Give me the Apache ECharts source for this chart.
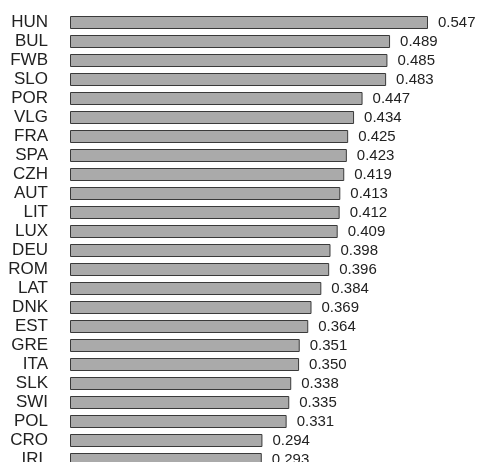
<!DOCTYPE html>
<html>
<head>
<meta charset="utf-8">
<script src="https://cdn.jsdelivr.net/npm/echarts@6/dist/echarts.min.js"></script>
<style>
html,body{margin:0;padding:0;background:#fff;}
#chart{width:493px;height:462px;}
</style>
</head>
<body>
<div id="chart"></div>
<script>
const categories = ["HUN","BUL","FWB","SLO","POR","VLG","FRA","SPA","CZH","AUT","LIT","LUX","DEU","ROM","LAT","DNK","EST","GRE","ITA","SLK","SWI","POL","CRO","IRL"];
const values = [0.547,0.489,0.485,0.483,0.447,0.434,0.425,0.423,0.419,0.413,0.412,0.409,0.398,0.396,0.384,0.369,0.364,0.351,0.350,0.338,0.335,0.331,0.294,0.293];

const chart = echarts.init(document.getElementById('chart'), null, {renderer:'canvas'});
const xMax = 0.6;
const pxPerUnit = 654.5;
chart.setOption({
  animation:false,
  backgroundColor:'#ffffff',
  grid:{left:70, top:13, width:xMax*pxPerUnit, height:categories.length*19, containLabel:false, outerBoundsMode:'none'},
  xAxis:{type:'value', min:0, max:xMax, show:false},
  yAxis:{type:'category', data:categories, inverse:true,
    axisLine:{show:false}, axisTick:{show:false}, splitLine:{show:false},
    axisLabel:{interval:0, margin:22, color:'#222', fontFamily:'Liberation Sans, Arial, sans-serif', fontSize:17}},
  series:[{type:'bar', data:values, barWidth:13,
    itemStyle:{color:'#aaaaaa', borderColor:'#3a3a3a', borderWidth:1},
    label:{show:true, position:'right', distance:10, color:'#222', fontFamily:'Liberation Sans, Arial, sans-serif', fontSize:15,
      formatter:p=>p.value.toFixed(3)}}]
});
</script>
</body>
</html>
